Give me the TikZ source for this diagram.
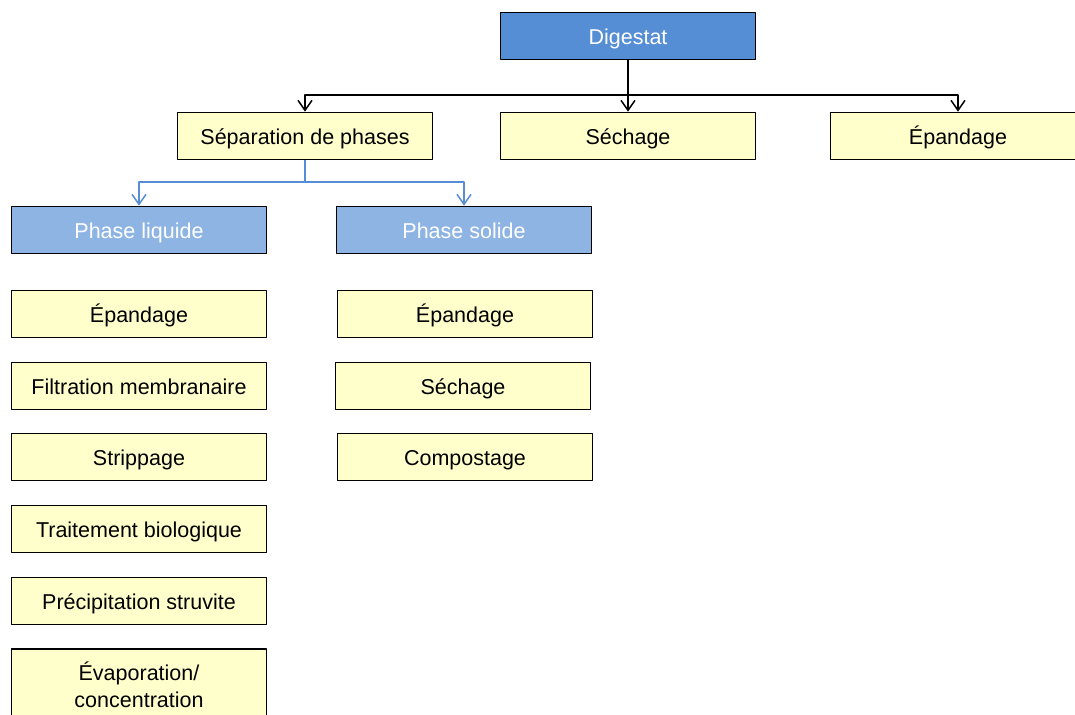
\documentclass[tikz,border=0pt]{standalone}
\usepackage{fontspec}
\setmainfont{Liberation Sans}
\usetikzlibrary{arrows.meta}
\definecolor{boxyellow}{RGB}{255,255,204}
\definecolor{darkblue}{RGB}{85,142,213}
\definecolor{lightblue}{RGB}{142,180,227}
\begin{document}
\begin{tikzpicture}[>={Straight Barb[length=10bp,width=14bp]},line join=bevel,
  box/.style={draw=black,line width=1.7bp,fill=boxyellow,minimum width=255bp,minimum height=47bp,inner sep=0pt,text height=19bp,text depth=2bp,font=\fontsize{21.5bp}{27bp}\selectfont,align=center},
  headbox/.style={box,fill=darkblue,text=white},
  phasebox/.style={box,fill=lightblue,text=white}]
%%
\useasboundingbox (0bp,0bp) rectangle (1075bp,-715bp);
\node (node_digestat) at (628bp,-36bp) [headbox] {Digestat};
  \node (node_separation) at (305bp,-136bp) [box] {Séparation de phases};
  \node (node_sechage) at (628bp,-136bp) [box] {Séchage};
  \node (node_epandage) at (958bp,-136bp) [box] {Épandage};
  \node (node_liquide) at (139bp,-230bp) [phasebox] {Phase liquide};
  \node (node_solide) at (464bp,-230bp) [phasebox] {Phase solide};
  \node (node_l1) at (139bp,-314bp) [box] {Épandage};
  \node (node_l2) at (139bp,-386bp) [box] {Filtration membranaire};
  \node (node_l3) at (139bp,-457bp) [box] {Strippage};
  \node (node_l4) at (139bp,-529bp) [box] {Traitement biologique};
  \node (node_l5) at (139bp,-601bp) [box] {Précipitation struvite};
  \node (node_l6) at (139bp,-685bp) [box,minimum height=72bp,text height=,text depth=] {Évaporation/\\concentration};
  \node (node_s1) at (465bp,-314bp) [box] {Épandage};
  \node (node_s2) at (463bp,-386bp) [box] {Séchage};
  \node (node_s3) at (465bp,-457bp) [box] {Compostage};
  \coordinate (fork_top) at (628bp,-95bp);
  \coordinate (fork_sep) at (305bp,-182bp);
  \draw [black,line width=1.5bp] (node_digestat) -- (fork_top);
  \draw [black,line width=1.5bp,->] (fork_top) -| (node_separation);
  \draw [black,line width=1.5bp,->] (fork_top) -- (node_sechage);
  \draw [black,line width=1.5bp,->] (fork_top) -| (node_epandage);
  \draw [darkblue,line width=1.5bp] (node_separation) -- (fork_sep);
  \draw [darkblue,line width=1.5bp,->] (fork_sep) -| (node_liquide);
  \draw [darkblue,line width=1.5bp,->] (fork_sep) -| (node_solide);
%
\end{tikzpicture}
\end{document}
